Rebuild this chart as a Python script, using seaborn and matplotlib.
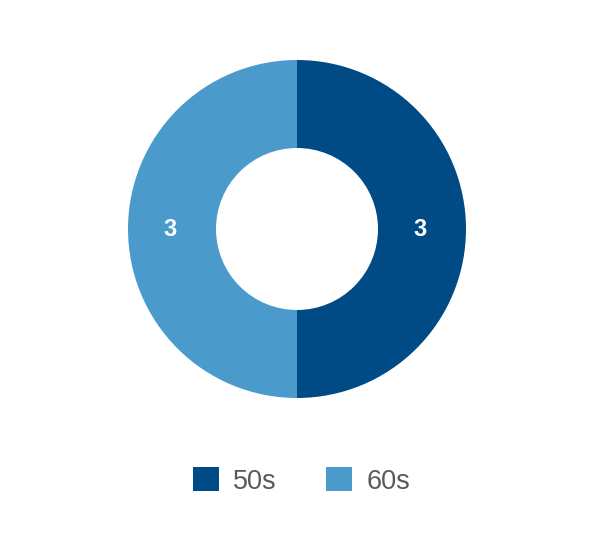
import matplotlib
matplotlib.use("Agg")
import matplotlib.pyplot as plt
import seaborn as sns
import numpy as np
from matplotlib.patches import Patch

categories = ["50s", "60s"]
values = [3, 3]
colors = ["#004a86", "#4a9bcc"]

sns.set_theme(style="white")
plt.rcParams['font.family'] = ['Liberation Sans', 'DejaVu Sans']

W, H = 594, 536
fig = plt.figure(figsize=(W / 100, H / 100), dpi=100)
fig.patch.set_facecolor("white")

cx, cy, R, r = 297, 229, 169, 81
ax = fig.add_axes([(cx - R) / W, 1 - (cy + R) / H, 2 * R / W, 2 * R / H])
wedges, _ = ax.pie(values, colors=colors, startangle=90, counterclock=False,
                   radius=1.0, wedgeprops=dict(width=(R - r) / R, linewidth=0))
ax.set_xlim(-1, 1)
ax.set_ylim(-1, 1)
ax.set_aspect("equal")
ax.axis("off")

total = sum(values)
start = 90.0
mid_r = (1 + r / R) / 2
for v in values:
    ang = start - 360 * v / total / 2
    ax.text(mid_r * np.cos(np.radians(ang)) - 0.01, mid_r * np.sin(np.radians(ang)), str(v),
            ha="center", va="center", color="white", fontsize=17, fontweight="bold")
    start -= 360 * v / total

handles = [Patch(facecolor=c, edgecolor="none") for c in colors]
leg = fig.legend(handles, categories, loc="center",
                 bbox_to_anchor=(0.5 + 4.5 / W, 1 - 481 / H),
                 ncol=2, frameon=False, fontsize=19.5, handlelength=0.96, handleheight=0.96,
                 handletextpad=0.55, columnspacing=1.8, borderpad=0)
for t in leg.get_texts():
    t.set_color("#595959")

fig.savefig("out.png", dpi=100, facecolor="white")
